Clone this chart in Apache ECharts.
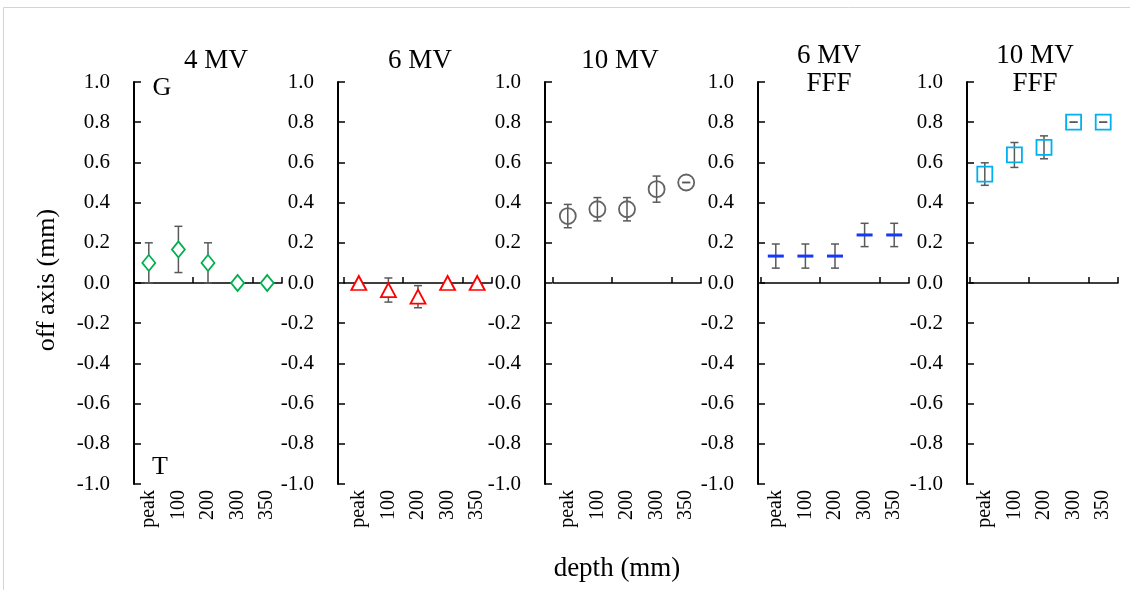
<!DOCTYPE html>
<html>
<head>
<meta charset="utf-8">
<style>
  html, body { margin: 0; padding: 0; background: #fff; }
  #chart { width: 1130px; height: 590px; }
</style>
<script src="https://cdn.jsdelivr.net/npm/echarts@6/dist/echarts.min.js"></script>
</head>
<body>
<div id="chart"></div>
<script>
// ---- data ----
const categories = ['peak', '100', '200', '300', '350'];
const yTicks = [-1.0, -0.8, -0.6, -0.4, -0.2, 0.0, 0.2, 0.4, 0.6, 0.8, 1.0];
const panelTitles = [['4 MV'], ['6 MV'], ['10 MV'], ['6 MV', 'FFF'], ['10 MV', 'FFF']];

const val4MV = [0.10, 0.167, 0.10, 0.0, 0.0];
const err4MV = [0.10, 0.115, 0.10, 0.0, 0.0];

const val6MV = [0.0, -0.035, -0.068, 0.0, 0.0];
const err6MV = [0.0, 0.060, 0.055, 0.0, 0.0];

const val10MV = [0.333, 0.367, 0.367, 0.467, 0.50];
const err10MV = [0.058, 0.058, 0.058, 0.065, 0.0];

const val6FFF = [0.134, 0.134, 0.134, 0.239, 0.239];
const err6FFF = [0.060, 0.060, 0.060, 0.058, 0.058];

const val10FFF = [0.542, 0.637, 0.675, 0.80, 0.80];
const err10FFF = [0.056, 0.062, 0.057, 0.0, 0.0];

// ---- layout / style ----
const FONT = '"Liberation Serif", "Times New Roman", serif';
const panels = [
  { vals: val4MV,  errs: err4MV,  color: '#00B050', symbol: 'diamond',  size: [13, 16], fill: '#fff', left: 134, offset: 0, tx: 216 },
  { vals: val6MV,  errs: err6MV,  color: '#FF0000', symbol: 'triangle', size: [15, 14], fill: '#fff', left: 344, offset: 6, tx: 420 },
  { vals: val10MV, errs: err10MV, color: '#636363', symbol: 'circle',   size: 16,       fill: 'rgba(255,255,255,0)', left: 553, offset: 8, tx: 620 },
  { vals: val6FFF, errs: err6FFF, color: '#1538ff', symbol: 'rect',     size: [16, 3],  fill: '#1538ff', left: 761, offset: 3, tx: 829 },
  { vals: val10FFF,errs: err10FFF,color: '#00B0F0', symbol: 'rect',     size: [15, 15], fill: 'rgba(255,255,255,0)', left: 970, offset: 3, tx: 1035 }
];
const GRID_W = 148, GRID_TOP = 82, GRID_BOTTOM = 106;

const grid = [], xAxis = [], yAxis = [], series = [], graphic = [];

panels.forEach((p, i) => {
  grid.push({ left: p.left, top: GRID_TOP, width: GRID_W, bottom: GRID_BOTTOM, containLabel: false });
  // axis line on zero with inside ticks
  xAxis.push({
    type: 'category', gridIndex: i, data: categories, position: 'bottom', boundaryGap: true,
    axisLine: { onZero: true, lineStyle: { color: '#000', width: 1.5 } },
    axisTick: { show: true, inside: true, length: 6, lineStyle: { color: '#000', width: 1.5 } },
    axisLabel: { show: false }, splitLine: { show: false }
  });
  // labels at bottom
  xAxis.push({
    type: 'category', gridIndex: i, data: categories, position: 'bottom', boundaryGap: true,
    axisLine: { show: false, onZero: false }, axisTick: { show: false },
    axisLabel: { show: true, rotate: 90, margin: 6, color: '#000', fontFamily: FONT, fontSize: 20, interval: 0 },
    splitLine: { show: false }
  });
  yAxis.push({
    type: 'value', gridIndex: i, min: -1, max: 1, interval: 0.2, offset: p.offset,
    axisLine: { show: true, onZero: false, lineStyle: { color: '#000', width: 2 } },
    axisTick: { show: true, inside: true, length: 7, lineStyle: { color: '#000', width: 1.5 } },
    axisLabel: { color: '#000', fontFamily: FONT, fontSize: 21, margin: 24,
      formatter: v => yTicks.some(t => Math.abs(t - v) < 1e-6) ? v.toFixed(1) : '' },
    splitLine: { show: false }
  });

  // error bars
  series.push({
    type: 'custom', xAxisIndex: 2 * i, yAxisIndex: i, z: 2, silent: true,
    data: p.vals.map((v, k) => [k, v - p.errs[k], v + p.errs[k]]),
    renderItem: (params, api) => {
      const hi = api.coord([api.value(0), api.value(2)]);
      const lo = api.coord([api.value(0), api.value(1)]);
      const cw = 4;
      const st = { stroke: '#595959', lineWidth: 1.5 };
      return {
        type: 'group',
        children: [
          { type: 'line', shape: { x1: hi[0], y1: hi[1], x2: lo[0], y2: lo[1] }, style: st },
          { type: 'line', shape: { x1: hi[0] - cw, y1: hi[1], x2: hi[0] + cw, y2: hi[1] }, style: st },
          { type: 'line', shape: { x1: lo[0] - cw, y1: lo[1], x2: lo[0] + cw, y2: lo[1] }, style: st }
        ]
      };
    }
  });
  // markers
  series.push({
    type: 'scatter', xAxisIndex: 2 * i, yAxisIndex: i, z: 3, silent: true,
    data: p.vals,
    symbol: p.symbol, symbolSize: p.size,
    itemStyle: { color: p.fill, borderColor: p.color, borderWidth: p.symbol === 'rect' && p.fill === p.color ? 0 : 1.8, opacity: 1 }
  });

  // titles
  const lines = panelTitles[i];
  lines.forEach((t, j) => {
    const y = lines.length === 1 ? 61 : (j === 0 ? 56 : 84);
    graphic.push({ type: 'text', x: p.tx, y: y, silent: true,
      style: { text: t, font: '27px ' + FONT, fill: '#000', textAlign: 'center', textVerticalAlign: 'middle' } });
  });
});

// G / T markers
graphic.push({ type: 'text', x: 162, y: 88, silent: true,
  style: { text: 'G', font: '26px ' + FONT, fill: '#000', textAlign: 'center', textVerticalAlign: 'middle' } });
graphic.push({ type: 'text', x: 160, y: 467, silent: true,
  style: { text: 'T', font: '26px ' + FONT, fill: '#000', textAlign: 'center', textVerticalAlign: 'middle' } });
// axis names
graphic.push({ type: 'text', x: 47, y: 280, rotation: Math.PI / 2, silent: true,
  style: { text: 'off axis (mm)', font: '26px ' + FONT, fill: '#000', textAlign: 'center', textVerticalAlign: 'middle' } });
graphic.push({ type: 'text', x: 617, y: 569, silent: true,
  style: { text: 'depth (mm)', font: '27px ' + FONT, fill: '#000', textAlign: 'center', textVerticalAlign: 'middle' } });
// faint frame (top and left edges)
graphic.push({ type: 'line', silent: true, shape: { x1: 3.5, y1: 7.5, x2: 1130, y2: 7.5 }, style: { stroke: '#d4d4d4', lineWidth: 1 } });
graphic.push({ type: 'line', silent: true, shape: { x1: 3.5, y1: 7.5, x2: 3.5, y2: 590 }, style: { stroke: '#d4d4d4', lineWidth: 1 } });

const chart = echarts.init(document.getElementById('chart'), null, { renderer: 'canvas' });
chart.setOption({
  animation: false,
  backgroundColor: '#fff',
  grid, xAxis, yAxis, series, graphic
});
</script>
</body>
</html>
